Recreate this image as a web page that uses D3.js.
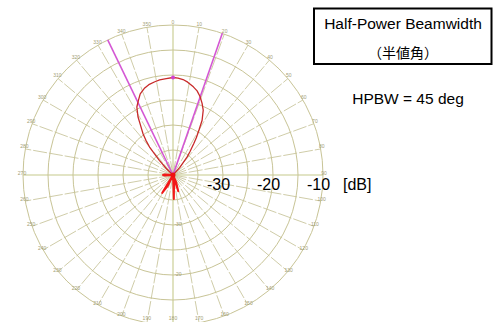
<!DOCTYPE html>
<html>
<head>
<meta charset="utf-8">
<script src="https://cdn.jsdelivr.net/npm/d3@7"></script>
<style>
  html, body { margin: 0; padding: 0; background: #fff; }
  svg { display: block; }
</style>
</head>
<body>
<svg id="chart" width="499" height="322"></svg>
<script>
// Grid definition
const ringLevels = [-35, -30, -25, -20, -15, -10];      // dB circles
const spokeAngles = d3.range(0, 360, 10);               // degrees, clockwise from top
const scaleLabels = ["-30", "-20", "-10"];
const scaleLabelLevels = [-30, -20, -10];
const ringTickLabels = ["-30", "-20"];
const ringTickLevels = [-30, -20];

// Measured radiation pattern, main lobe (angle deg, level dB)
const lobeAngles = [-48, -46, -43, -40, -38, -36, -33, -31, -28, -25, -22, -18, -15, -11, -8, -4, 0,
                    3, 6, 9, 13, 16, 19, 22, 25, 28, 30, 32, 33.5, 36, 38, 42, 46];
const lobeLevels = [-40, -38.2, -36, -32.7, -31.2, -29.8, -28.0, -26.4, -24.6, -23.6, -22.5, -21.7, -21.3, -21.0, -20.8, -20.7, -20.5,
                    -20.6, -20.8, -21.2, -21.9, -22.5, -23.4, -24.5, -25.7, -27.6, -29.6, -31.2, -32.5, -34.2, -35.4, -38.0, -40];

// Back / side lobes close to the noise floor
const backAngles = [150, 156, 162, 168, 174, 178, 182, 200, 206, 211, 216, 262, 266, 270, 274, 278];
const backLevels = [-40, -38.5, -36.6, -40, -38, -35.2, -40, -40, -37.5, -35.8, -40, -40, -38.4, -38, -38.4, -40];

// Half-power edges of the main beam
const hpbwEdges = [-25.8, 19.2];
const hpbw = hpbwEdges[1] - hpbwEdges[0];

const cx = 173, cy = 175, R = 150;
const floorDb = -40, topDb = -10;

const svg = d3.select("#chart");
const r = d3.scaleLinear().domain([floorDb, topDb]).range([0, R]).clamp(true);
const toRad = a => a * Math.PI / 180;

const g = svg.append("g").attr("transform", `translate(${cx},${cy})`);

// Spokes
g.append("g").selectAll("line")
  .data(spokeAngles)
  .join("line")
  .attr("x1", 0).attr("y1", 0)
  .attr("x2", d => R * Math.sin(toRad(d)))
  .attr("y2", d => -R * Math.cos(toRad(d)))
  .attr("stroke", d => d % 90 === 0 ? "#c6ca8c" : "#cac69e")
  .attr("stroke-width", d => d % 90 === 0 ? 1.1 : 0.9)
  .attr("stroke-dasharray", d => d % 90 === 0 ? null : "14,2");

// Rings
g.append("g").selectAll("circle")
  .data(ringLevels)
  .join("circle")
  .attr("r", d => r(d))
  .attr("fill", "none")
  .attr("stroke", "#c8c496")
  .attr("stroke-width", 1);

// Angle labels around the rim (kept inside the drawing area at the bottom)
const labelY = d => Math.min(-(R + 1) * Math.cos(toRad(d)) - 2.5, 143);
g.append("g").selectAll("text")
  .data(spokeAngles)
  .join("text")
  .attr("x", d => (R + 1) * Math.sin(toRad(d)))
  .attr("y", labelY)
  .attr("text-anchor", "middle")
  .attr("dominant-baseline", "central")
  .attr("font-family", "Liberation Sans, Arial, sans-serif")
  .attr("font-size", 5)
  .attr("fill", "#a29e76")
  .text(d => d);

// Small ring values along the lower axis
g.append("g").selectAll("text")
  .data(ringTickLevels)
  .join("text")
  .attr("x", 5)
  .attr("y", d => r(d) - 1)
  .attr("text-anchor", "middle")
  .attr("dominant-baseline", "central")
  .attr("font-family", "Liberation Sans, Arial, sans-serif")
  .attr("font-size", 5)
  .attr("fill", "#a29e76")
  .text((d, i) => ringTickLabels[i]);

// Half-power boundary lines
g.append("g").selectAll("line")
  .data(hpbwEdges)
  .join("line")
  .attr("x1", 0).attr("y1", 0)
  .attr("x2", d => R * Math.sin(toRad(d)))
  .attr("y2", d => -R * Math.cos(toRad(d)))
  .attr("stroke", "#d457d4")
  .attr("stroke-width", 1.6);

const radial = d3.lineRadial()
  .angle(d => toRad(d[0]))
  .radius(d => r(d[1]))
  .curve(d3.curveLinear);

// Back lobes
g.append("path")
  .datum(backAngles.map((a, i) => [a, backLevels[i]]))
  .attr("d", radial)
  .attr("fill", "none")
  .attr("stroke", "#f21818")
  .attr("stroke-width", 2)
  .attr("stroke-linejoin", "round");

// Main lobe
g.append("path")
  .datum(lobeAngles.map((a, i) => [a, lobeLevels[i]]))
  .attr("d", radial)
  .attr("fill", "none")
  .attr("stroke", "#c82a2a")
  .attr("stroke-width", 1.3)
  .attr("stroke-linejoin", "round");

// Center marker
g.append("circle").attr("r", 2.5).attr("fill", "#f01010");

// Peak marker
const peakIdx = d3.maxIndex(lobeLevels);
g.append("circle")
  .attr("cx", r(lobeLevels[peakIdx]) * Math.sin(toRad(lobeAngles[peakIdx])))
  .attr("cy", -r(lobeLevels[peakIdx]) * Math.cos(toRad(lobeAngles[peakIdx])))
  .attr("r", 2)
  .attr("fill", "#d040d0");

// dB scale labels along the right axis
g.append("g").selectAll("text")
  .data(scaleLabelLevels)
  .join("text")
  .attr("x", d => r(d) - 4.5)
  .attr("y", 15)
  .attr("text-anchor", "middle")
  .attr("font-family", "Liberation Sans, Arial, sans-serif")
  .attr("font-size", 16)
  .attr("fill", "#000")
  .text((d, i) => scaleLabels[i]);

svg.append("text")
  .attr("x", 343).attr("y", 190)
  .attr("font-family", "Liberation Sans, Arial, sans-serif")
  .attr("font-size", 16)
  .attr("fill", "#000")
  .text("[dB]");

// Title box
svg.append("rect")
  .attr("x", 314).attr("y", 8.5)
  .attr("width", 177.5).attr("height", 55.5)
  .attr("fill", "#fff")
  .attr("stroke", "#000")
  .attr("stroke-width", 2);

svg.append("text")
  .attr("x", 403).attr("y", 29)
  .attr("text-anchor", "middle")
  .attr("font-family", "Liberation Sans, Arial, sans-serif")
  .attr("font-size", 15.5)
  .attr("fill", "#000")
  .text("Half-Power Beamwidth");

svg.append("text")
  .attr("x", 403).attr("y", 58)
  .attr("text-anchor", "middle")
  .attr("font-family", "Noto Sans CJK JP, sans-serif")
  .attr("font-size", 14)
  .attr("fill", "#000")
  .text("（半値角）");

svg.append("text")
  .attr("x", 408).attr("y", 104)
  .attr("text-anchor", "middle")
  .attr("font-family", "Liberation Sans, Arial, sans-serif")
  .attr("font-size", 15.5)
  .attr("fill", "#000")
  .text(`HPBW = ${Math.round(hpbw)} deg`);
</script>
</body>
</html>
